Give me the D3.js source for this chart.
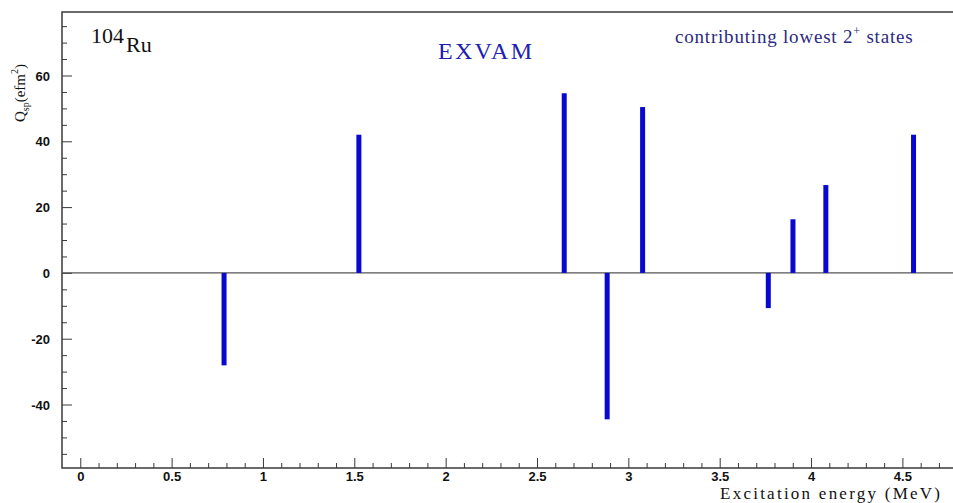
<!DOCTYPE html>
<html>
  <head>
    <meta charset="UTF-8">
    <style>
      body { margin: 0; background: #fff; }
      svg { display: block; }
      .tick-label { font-family: "Liberation Sans", Arial, sans-serif; font-weight: bold; font-size: 13px; fill: #111; }
      .serif { font-family: "Liberation Serif", "DejaVu Serif", serif; }
    </style>
  </head>
  <body>
    <svg id="chart" width="953" height="503"></svg>
    <script src="https://cdnjs.cloudflare.com/ajax/libs/d3/7.8.5/d3.min.js"></script>
    <script>
      // excitation energies (MeV) and spectroscopic quadrupole moments (e fm^2)
      var energies = [0.787, 1.525, 2.649, 2.884, 3.078, 3.766, 3.901, 4.081, 4.561];
      var qsp = [-28.1, 42.0, 54.6, -44.5, 50.4, -10.7, 16.3, 26.7, 42.0];

      var xTicks = [0, 0.5, 1, 1.5, 2, 2.5, 3, 3.5, 4, 4.5];
      var xTickLabels = ["0", "0.5", "1", "1.5", "2", "2.5", "3", "3.5", "4", "4.5"];
      var yTicks = [-40, -20, 0, 20, 40, 60];
      var yTickLabels = ["-40", "-20", "0", "20", "40", "60"];

      var svg = d3.select("#chart"),
          plotLeft = 62, plotTop = 12, plotRight = 953, plotBottom = 468;

      var x = d3.scaleLinear().domain([-0.1, 4.777]).range([plotLeft, plotRight]);
      var y = d3.scaleLinear().domain([-59.3, 79.3]).range([plotBottom, plotTop]);

      var axisColor = "#3a3a3a";

      // minor ticks first (no labels)
      var xMinor = d3.range(0, 48).map(function(i) { return i / 10; })
        .filter(function(v) { return xTicks.indexOf(v) < 0; });
      var yMinor = d3.range(-55, 80, 5).filter(function(v) { return v % 20 != 0; });

      svg.append("g")
          .attr("transform", "translate(0," + plotBottom + ")")
          .call(d3.axisBottom(x).tickValues(xMinor).tickSize(-5).tickFormat(""))
          .call(function(g) { g.select(".domain").remove(); })
          .selectAll("line").attr("stroke", axisColor);

      svg.append("g")
          .attr("transform", "translate(" + plotLeft + ",0)")
          .call(d3.axisLeft(y).tickValues(yMinor).tickSize(-5).tickFormat(""))
          .call(function(g) { g.select(".domain").remove(); })
          .selectAll("line").attr("stroke", axisColor);

      // major ticks with labels
      var gx = svg.append("g")
          .attr("transform", "translate(0," + plotBottom + ")")
          .call(d3.axisBottom(x).tickValues(xTicks).tickSizeInner(-10).tickSizeOuter(0)
            .tickFormat(function(d, i) { return xTickLabels[i]; }));
      gx.select(".domain").remove();
      gx.selectAll("line").attr("stroke", axisColor);
      gx.selectAll("text").attr("class", "tick-label").attr("y", 4).attr("dy", "0.71em");

      var gy = svg.append("g")
          .attr("transform", "translate(" + plotLeft + ",0)")
          .call(d3.axisLeft(y).tickValues(yTicks).tickSizeInner(-10).tickSizeOuter(0)
            .tickFormat(function(d, i) { return yTickLabels[i]; }));
      gy.select(".domain").remove();
      gy.selectAll("line").attr("stroke", axisColor);
      gy.selectAll("text").attr("class", "tick-label").attr("x", -12).attr("dy", "0.36em");

      // frame: left axis, bottom axis, top border
      svg.append("path")
          .attr("d", "M" + plotRight + "," + plotTop + "H" + plotLeft + "V" + plotBottom + "H" + plotRight)
          .attr("fill", "none")
          .attr("stroke", axisColor)
          .attr("stroke-width", 1.5);

      // zero line
      svg.append("line")
          .attr("x1", plotLeft).attr("x2", plotRight)
          .attr("y1", y(0)).attr("y2", y(0))
          .attr("stroke", "#555")
          .attr("stroke-width", 1.2);

      // bars
      svg.selectAll(".bar")
          .data(energies)
        .enter().append("rect")
          .attr("class", "bar")
          .attr("x", function(d) { return x(d) - 2.5; })
          .attr("width", 5)
          .attr("y", function(d, i) { return Math.min(y(qsp[i]), y(0)); })
          .attr("height", function(d, i) { return Math.abs(y(qsp[i]) - y(0)); })
          .attr("fill", "#0808d0");

      // nucleus label
      var nuc = svg.append("text").attr("class", "serif").attr("x", 91).attr("y", 43)
          .attr("font-size", 22).attr("fill", "#111");
      nuc.append("tspan").text("104");
      nuc.append("tspan").attr("dy", 9).attr("dx", 2).text("Ru");

      svg.append("text").attr("class", "serif")
          .attr("x", 438).attr("y", 59)
          .attr("font-size", 24)
          .attr("textLength", 94).attr("lengthAdjust", "spacing")
          .attr("fill", "#2020b0")
          .text("EXVAM");

      var note = svg.append("text").attr("class", "serif")
          .attr("x", 675).attr("y", 43)
          .attr("font-size", 19)
          .attr("letter-spacing", 0.8)
          .attr("fill", "#2a2a80");
      note.append("tspan").text("contributing lowest 2");
      note.append("tspan").attr("dy", -8).attr("font-size", 12).text("+");
      note.append("tspan").attr("dy", 8).text(" states");

      // axis titles
      svg.append("text").attr("class", "serif")
          .attr("x", 940).attr("y", 499)
          .attr("text-anchor", "end")
          .attr("font-size", 17)
          .attr("textLength", 220).attr("lengthAdjust", "spacing")
          .attr("fill", "#111")
          .text("Excitation energy (MeV)");

      var yt = svg.append("text").attr("class", "serif")
          .attr("transform", "translate(25,93) rotate(-90)")
          .attr("text-anchor", "middle")
          .attr("font-size", 15)
          .attr("fill", "#111");
      yt.append("tspan").text("Q");
      yt.append("tspan").attr("dy", 4).attr("font-size", 10).text("sp");
      yt.append("tspan").attr("dy", -4).text("(efm");
      yt.append("tspan").attr("dy", -7).attr("font-size", 10).text("2");
      yt.append("tspan").attr("dy", 7).text(")");
    </script>
  </body>
</html>
